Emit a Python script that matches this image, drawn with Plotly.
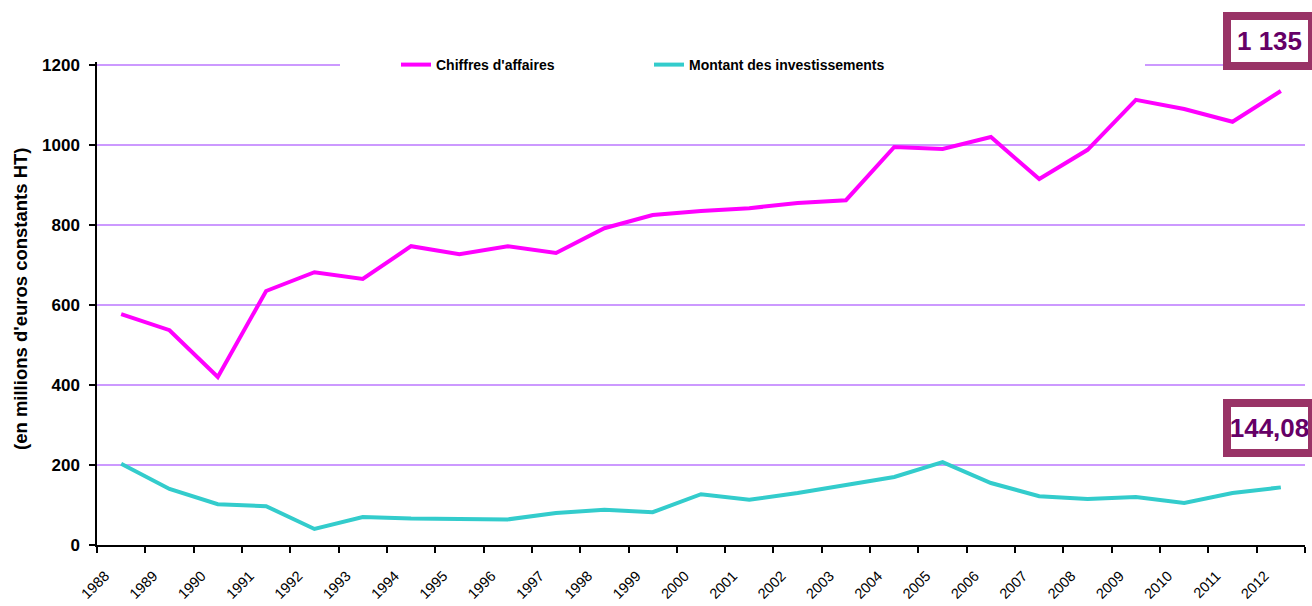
import plotly.graph_objects as go

years = list(range(1988, 2013))
chiffres = [577, 537, 420, 635, 682, 665, 747, 727, 747, 730, 792, 825, 835, 842, 855, 862,
            995, 990, 1020, 915, 988, 1113, 1090, 1058, 1135]
invest = [203, 140, 102, 97, 40, 70, 66, 64, 64, 80, 88, 82, 127, 113, 130, 150,
          170, 207, 155, 122, 115, 120, 105, 130, 144.08]
tick_labels = [str(y) for y in years]
label_ca = "1 135"
label_inv = "144,08"

W, H = 1312, 606
ml, mr, mt, mb = 97, 7, 62, 61
pw, ph = W - ml - mr, H - mt - mb

def px_x(p):
    return (p - ml) / pw

def px_y(p):
    return (H - mb - p) / ph

fig = go.Figure()
fig.add_trace(go.Scatter(x=years, y=chiffres, mode="lines", name="Chiffres d'affaires",
                         line=dict(color="#ff00ff", width=4)))
fig.add_trace(go.Scatter(x=years, y=invest, mode="lines", name="Montant des investissements",
                         line=dict(color="#33cccc", width=4)))

tickvals = [y - 0.5 for y in years] + [years[-1] + 0.5]
ticktext = tick_labels + [""]

fig.update_layout(
    width=W, height=H,
    margin=dict(l=ml, r=mr, t=mt, b=mb, autoexpand=False),
    paper_bgcolor="white", plot_bgcolor="white",
    font=dict(family="Liberation Sans, Arial, sans-serif", color="black"),
    showlegend=True,
    legend=dict(orientation="h", x=px_x(396), y=px_y(65), xanchor="left", yanchor="middle",
                bgcolor="rgba(0,0,0,0)",
                font=dict(family="Liberation Sans, Arial", size=14, color="black", weight="bold"),
                entrywidth=208, entrywidthmode="pixels", traceorder="normal"),
    xaxis=dict(range=[years[0] - 0.5, years[-1] + 0.5], tickmode="array",
               tickvals=tickvals, ticktext=ticktext, tickangle=-45,
               ticks="outside", ticklen=6, tickwidth=1.5, tickcolor="black",
               showline=True, linecolor="black", linewidth=1.5,
               showgrid=False, zeroline=False,
               tickfont=dict(size=14.5, color="black"),
               ticklabelshift=8, ticklabelstandoff=9),
    yaxis=dict(range=[0, 1207.5], tickvals=[0, 200, 400, 600, 800, 1000, 1200],
               ticks="outside", ticklen=6, tickwidth=1.5, tickcolor="black",
               showline=True, linecolor="black", linewidth=1.5,
               showgrid=True, gridcolor="#cc99ff", gridwidth=1.5, zeroline=False,
               tickfont=dict(size=17, color="black", weight="bold"),
               ticklabelstandoff=6),
)

# white gap in the top gridline behind the legend
fig.add_shape(type="rect", xref="paper", yref="paper",
              x0=px_x(340), x1=px_x(1145), y0=px_y(72), y1=px_y(58),
              fillcolor="white", line=dict(width=0), layer="above")

fig.add_annotation(text="(en millions d'euros constants HT)", xref="paper", yref="paper",
                   x=px_x(20), y=px_y(299), textangle=-90, showarrow=False,
                   xanchor="center", yanchor="middle",
                   font=dict(size=18.5, color="black", weight="bold"))

for txt, cy in [(label_ca, 41), (label_inv, 427.5)]:
    fig.add_annotation(text=txt, xref="paper", yref="paper",
                       x=px_x(1269.5), y=px_y(cy), xanchor="center", yanchor="middle",
                       showarrow=False, bgcolor="white", bordercolor="#993366",
                       borderwidth=8, borderpad=0, width=77, height=42,
                       font=dict(size=26, color="#660066", weight="bold"))

fig.write_html("out.html", config={"displayModeBar": False},
               post_script="document.body.style.margin='0';")
